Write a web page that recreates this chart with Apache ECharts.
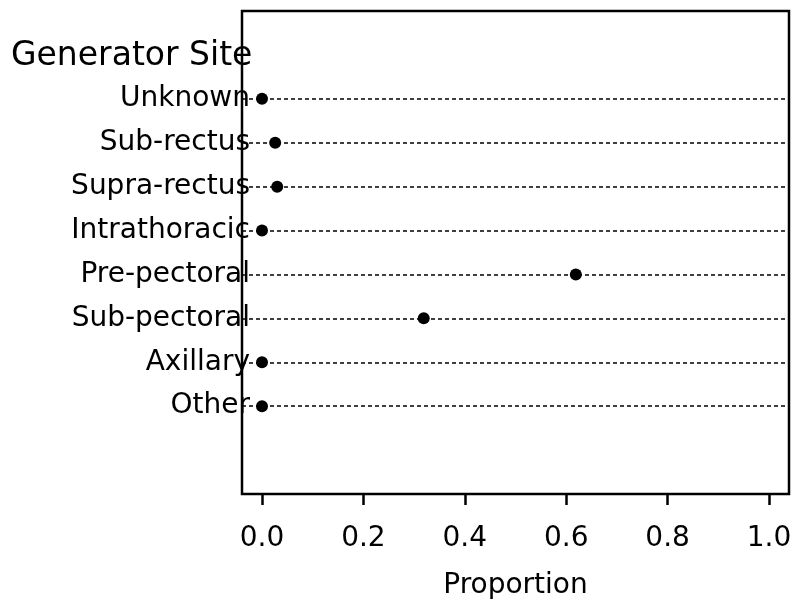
<!DOCTYPE html>
<html>
<head>
<meta charset="utf-8">
<script src="https://cdn.jsdelivr.net/npm/echarts@6/dist/echarts.min.js"></script>
<style>
  html, body { margin: 0; padding: 0; background: #fff; }
  #chart { width: 798px; height: 607px; }
</style>
</head>
<body>
<div id="chart"></div>
<script>
  // categories top to bottom
  const sites = ['Unknown', 'Sub-rectus', 'Supra-rectus', 'Intrathoracic', 'Pre-pectoral', 'Sub-pectoral', 'Axillary', 'Other']
  const proportions = [0.0, 0.026, 0.030, 0.0, 0.619, 0.319, 0.0, 0.0]
  const xTicks = [0, 0.2, 0.4, 0.6, 0.8, 1.0]

  // two empty slots above and below the dots (blank categories, distinct names)
  const yCats = [' ', '  '].concat(sites, ['   ', '    '])
  const isSite = (idx, val) => val.trim() !== ''

  const font = 'DejaVu Sans'
  const myChart = echarts.init(document.getElementById('chart'))

  const options = {
    animation: false,
    title: {
      text: 'Generator Site',
      left: 11,
      top: 40,
      padding: 0,
      textStyle: { fontFamily: font, fontSize: 33, fontWeight: 'normal', color: '#000' }
    },
    grid: [
      // frame + dotted guide lines
      { left: 242, top: 11, width: 547, height: 483, show: true, borderColor: '#000', borderWidth: 2.5, backgroundColor: 'transparent' },
      // data area (0..1 on x)
      { left: 262, top: 11, width: 507, height: 483 }
    ],
    xAxis: [
      { gridIndex: 0, type: 'value', min: 0, max: 1, show: false },
      {
        gridIndex: 1,
        type: 'value',
        min: xTicks[0],
        max: xTicks[xTicks.length - 1],
        interval: 0.2,
        axisLine: { show: false },
        axisTick: { show: true, length: 11, lineStyle: { color: '#000', width: 2.5 } },
        splitLine: { show: false },
        axisLabel: {
          margin: 31,
          fontFamily: font,
          fontSize: 28,
          color: '#000',
          formatter: v => v.toFixed(1)
        },
        name: 'Proportion',
        nameLocation: 'middle',
        nameGap: 78,
        nameTextStyle: { fontFamily: font, fontSize: 28, color: '#000' }
      }
    ],
    yAxis: [
      {
        gridIndex: 0,
        type: 'category',
        data: yCats,
        inverse: true,
        boundaryGap: false,
        axisLine: { show: false },
        axisTick: { show: false },
        axisLabel: {
          interval: isSite,
          margin: -8,
          fontFamily: font,
          fontSize: 28,
          color: '#000'
        },
        splitLine: {
          show: true,
          interval: isSite,
          lineStyle: { color: '#000', width: 1.5, type: [4, 3] }
        }
      },
      {
        gridIndex: 1,
        type: 'category',
        data: yCats,
        inverse: true,
        boundaryGap: false,
        show: false
      }
    ],
    series: [
      {
        type: 'scatter',
        xAxisIndex: 1,
        yAxisIndex: 1,
        symbol: 'circle',
        symbolSize: 12,
        itemStyle: { color: '#000', opacity: 1 },
        data: sites.map((s, i) => [proportions[i], s])
      }
    ]
  }
  myChart.setOption(options)
</script>
</body>
</html>
